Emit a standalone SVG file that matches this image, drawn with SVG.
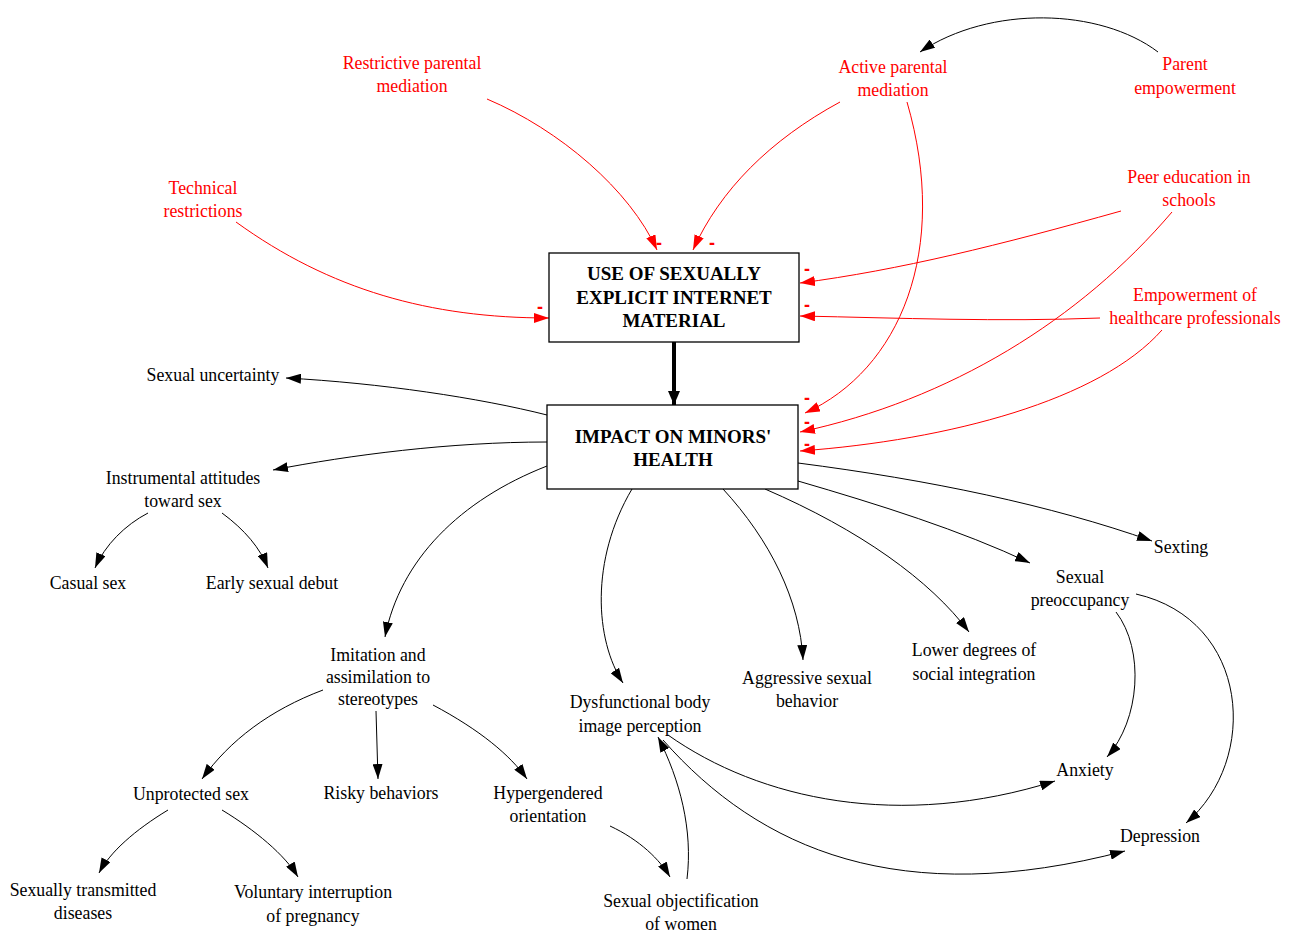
<svg xmlns="http://www.w3.org/2000/svg" width="1295" height="934" viewBox="0 0 1295 934">
<defs>
<style>
text{font-family:"Liberation Serif","Times New Roman",serif;font-size:17.8px;text-anchor:middle}
.r{fill:#ff0000}
.k{fill:#000}
.b{font-weight:bold;font-size:19px}
.m{font-family:"Liberation Sans",sans-serif;font-weight:bold;font-size:18px;fill:#ff0000}
.box{fill:#fff;stroke:#000;stroke-width:1.3}
.cr{fill:none;stroke:#ff0000;stroke-width:1;marker-end:url(#ar)}
.ck{fill:none;stroke:#000;stroke-width:1;marker-end:url(#ak)}
</style>
<marker id="ak" viewBox="0 0 15 10" refX="15" refY="5" markerWidth="15" markerHeight="10" markerUnits="userSpaceOnUse" orient="auto"><path d="M0,0 L15,5 L0,10 z" fill="#000"/></marker>
<marker id="ar" viewBox="0 0 15 10" refX="15" refY="5" markerWidth="15" markerHeight="10" markerUnits="userSpaceOnUse" orient="auto"><path d="M0,0 L15,5 L0,10 z" fill="#ff0000"/></marker>
<marker id="akb" viewBox="0 0 14 12" refX="14" refY="6" markerWidth="14" markerHeight="12" markerUnits="userSpaceOnUse" orient="auto"><path d="M0,0 L14,6 L0,12 z" fill="#000"/></marker>
</defs>
<rect width="1295" height="934" fill="#fff"/>
<g id="connectors">
<path class="cr" d="M487,99 C560,130 630,190 657,250"/>
<path class="cr" d="M840,102 C770,140 720,190 693,250"/>
<path class="cr" d="M907,102 C950,250 900,370 805,413"/>
<path class="cr" d="M236,222 C330,290 430,318 549,318"/>
<path class="cr" d="M1121,211 C1000,245 900,270 800,283"/>
<path class="cr" d="M1172,212 C1080,320 950,400 800,432"/>
<path class="cr" d="M1100,318 C1000,322 900,318 800,316"/>
<path class="cr" d="M1162,330 C1100,400 950,440 800,451"/>
<path class="ck" d="M1158,52 C1100,8 990,5 920,52"/>
<path fill="none" stroke="#000" stroke-width="4" marker-end="url(#akb)" d="M674,342 L674,405"/>
<path class="ck" d="M547,415 C480,398 380,383 286,378"/>
<path class="ck" d="M547,442 C450,442 350,455 273,470"/>
<path class="ck" d="M148,513 C125,525 105,545 95,568"/>
<path class="ck" d="M222,513 C245,530 260,548 268,568"/>
<path class="ck" d="M547,466 C460,500 400,560 385,637"/>
<path class="ck" d="M323,690 C270,710 230,740 202,779"/>
<path class="ck" d="M376,711 L378,779"/>
<path class="ck" d="M433,705 C480,730 510,755 527,779"/>
<path class="ck" d="M168,810 C135,830 110,852 99,873"/>
<path class="ck" d="M222,810 C255,830 285,855 298,877"/>
<path class="ck" d="M610,826 C640,840 660,860 670,877"/>
<path class="ck" d="M687,879 C693,830 680,780 658,737"/>
<path class="ck" d="M632,489 C590,560 595,640 623,683"/>
<path class="ck" d="M723,489 C770,540 800,600 803,660"/>
<path class="ck" d="M765,489 C860,530 930,580 969,632"/>
<path class="ck" d="M798,481 C880,505 960,530 1030,563"/>
<path class="ck" d="M798,463 C930,480 1050,505 1152,541"/>
<path class="ck" d="M1116,612 C1145,650 1140,720 1107,757"/>
<path class="ck" d="M1136,594 C1250,620 1260,760 1186,823"/>
<path class="ck" d="M668,735 C760,800 900,830 1055,781"/>
<path class="ck" d="M663,740 C760,850 900,910 1125,851"/>
<text class="m" x="659" y="249">-</text>
<text class="m" x="712" y="249">-</text>
<text class="m" x="540" y="313">-</text>
<text class="m" x="807" y="275">-</text>
<text class="m" x="807" y="311">-</text>
<text class="m" x="807" y="404">-</text>
<text class="m" x="807" y="428">-</text>
<text class="m" x="807" y="450">-</text>
</g>
<g id="use-box"><rect class="box" x="549" y="253" width="250" height="89"/>
<text class="b" x="674" y="280">USE OF SEXUALLY</text><text class="b" x="674" y="304">EXPLICIT INTERNET</text><text class="b" x="674" y="327">MATERIAL</text></g>
<g id="impact-box"><rect class="box" x="547" y="405" width="251" height="84"/>
<text class="b" x="673" y="443">IMPACT ON MINORS'</text><text class="b" x="673" y="466">HEALTH</text></g>
<g id="restrictive"><text class="r" x="412" y="69">Restrictive parental</text><text class="r" x="412" y="92">mediation</text></g>
<g id="active"><text class="r" x="893" y="73">Active parental</text><text class="r" x="893" y="96">mediation</text></g>
<g id="parent"><text class="r" x="1185" y="70">Parent</text><text class="r" x="1185" y="94">empowerment</text></g>
<g id="technical"><text class="r" x="203" y="194">Technical</text><text class="r" x="203" y="217">restrictions</text></g>
<g id="peer"><text class="r" x="1189" y="183">Peer education in</text><text class="r" x="1189" y="206">schools</text></g>
<g id="empower"><text class="r" x="1195" y="301">Empowerment of</text><text class="r" x="1195" y="324">healthcare professionals</text></g>
<g id="uncertainty"><text x="213" y="381">Sexual uncertainty</text></g>
<g id="instrumental"><text x="183" y="484">Instrumental attitudes</text><text x="183" y="507">toward sex</text></g>
<g id="casual"><text x="88" y="589">Casual sex</text></g>
<g id="early"><text x="272" y="589">Early sexual debut</text></g>
<g id="imitation"><text x="378" y="661">Imitation and</text><text x="378" y="683">assimilation to</text><text x="378" y="705">stereotypes</text></g>
<g id="unprotected"><text x="191" y="800">Unprotected sex</text></g>
<g id="risky"><text x="381" y="799">Risky behaviors</text></g>
<g id="hyper"><text x="548" y="799">Hypergendered</text><text x="548" y="822">orientation</text></g>
<g id="std"><text x="83" y="896">Sexually transmitted</text><text x="83" y="919">diseases</text></g>
<g id="voluntary"><text x="313" y="898">Voluntary interruption</text><text x="313" y="922">of pregnancy</text></g>
<g id="objectification"><text x="681" y="907">Sexual objectification</text><text x="681" y="930">of women</text></g>
<g id="dysfunctional"><text x="640" y="708">Dysfunctional body</text><text x="640" y="732">image perception</text></g>
<g id="aggressive"><text x="807" y="684">Aggressive sexual</text><text x="807" y="707">behavior</text></g>
<g id="lower"><text x="974" y="656">Lower degrees of</text><text x="974" y="680">social integration</text></g>
<g id="preoccupancy"><text x="1080" y="583">Sexual</text><text x="1080" y="606">preoccupancy</text></g>
<g id="sexting"><text x="1181" y="553">Sexting</text></g>
<g id="anxiety"><text x="1085" y="776">Anxiety</text></g>
<g id="depression"><text x="1160" y="842">Depression</text></g>
</svg>
